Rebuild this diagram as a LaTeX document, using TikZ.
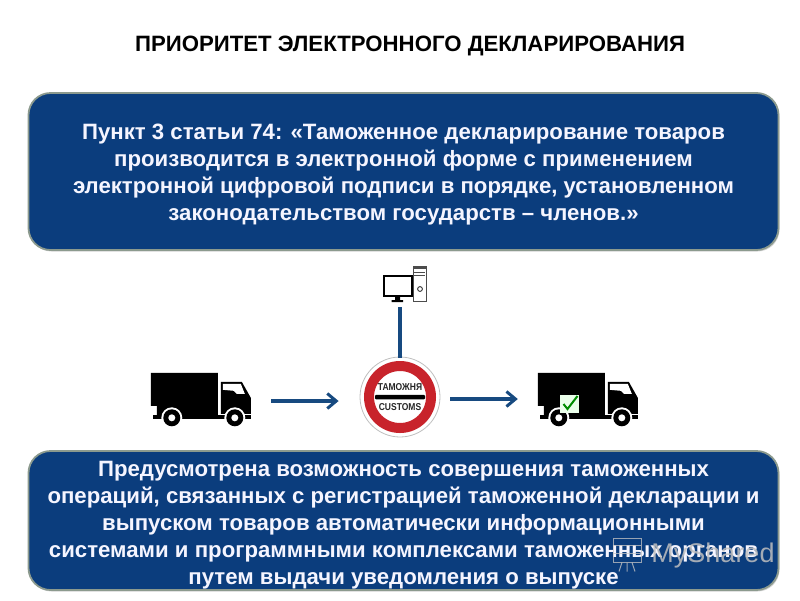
\documentclass[tikz,border=0pt]{standalone}
\usepackage{xcolor}
\usepackage{fontspec}
\setmainfont{Liberation Sans}
\newfontfamily\signfont[FakeStretch=.85]{Liberation Sans}
\usepackage{tikz}
\usetikzlibrary{positioning,shapes,shadows}
\usetikzlibrary{calc}
\usetikzlibrary{arrows.meta}
\definecolor{boxblue}{HTML}{0B3D7D}
\definecolor{boxrim}{HTML}{8C9A8E}
\definecolor{linkblue}{HTML}{174A80}
\definecolor{signred}{HTML}{C8232B}
\tikzset{
	infobox/.style={draw=boxrim,line width=1.8pt,fill=boxblue,rounded corners=22pt,minimum width=750pt,inner sep=0pt,
		drop shadow={shadow xshift=1pt,shadow yshift=-1.5pt,opacity=.35}},
	infotext/.style={text=white!96!blue,align=center,font=\fontsize{22.2}{27}\selectfont\bfseries,inner sep=0pt},
	link/.style={line width=3.2pt,linkblue},
	flow/.style={link,-{Straight Barb[length=9pt,width=15pt,line width=3pt]}},
	truckbox/.style={minimum width=100pt,minimum height=56pt,inner sep=0pt},
	signtext/.style={inner sep=0pt,font=\signfont\fontsize{10}{10}\selectfont\bfseries,text=black!85},
	markline/.style={gray!45,opacity=.75,line width=1pt},
	truck/.pic={
		\fill[black] (0,0) -- (67,0) -- (67,43) -- (6,43) -- (6,33) -- (0,33) -- cycle;
		\fill[black] (70,9) -- (91,9) -- (100,25) -- (100,41) -- (70,41) -- cycle;
		\fill[white] (72,11) -- (90,11) -- (94,21) -- (86,21) -- (83,18) -- (72,17) -- cycle;
		\fill[black] (2,42) rectangle (100,46);
		\foreach \w in {21,84}{
				\fill[white] (\w,45) circle (10.5);
				\fill[black] (\w,45) circle (8.5);
				\fill[white] (\w,45) circle (3.5);
			}
	}
}
\begin{document}
\begin{tikzpicture}[x=1pt,y=-1pt]
	\useasboundingbox (0,0) rectangle (800,600);
	\node[inner sep=0pt,font=\fontsize{22.2}{26}\selectfont\bfseries] (title) at (410,46) {ПРИОРИТЕТ ЭЛЕКТРОННОГО ДЕКЛАРИРОВАНИЯ};
	\node[infobox,minimum height=157pt] (lawbox) at (403.5,171.5) {};
	\node[infotext] (lawtext) at (403.5,175) {Пункт 3 статьи 74: «Таможенное декларирование товаров\\
		производится в электронной форме с применением\\
		электронной цифровой подписи в порядке, установленном\\
		законодательством государств – членов.»};
	\node[infobox,minimum height=139pt] (autobox) at (403.5,520.5) {};
	\node[infotext] (autotext) at (403.5,525) {Предусмотрена возможность совершения таможенных\\
		операций, связанных с регистрацией таможенной декларации и\\
		выпуском товаров автоматически информационными\\
		системами и программными комплексами таможенных органов\\
		путем выдачи уведомления о выпуске};
	% computer above the sign
	\node[draw,line width=2pt,minimum width=28pt,minimum height=20pt,inner sep=0pt] (screen) at (397.5,286) {};
	\fill[black] (395,296) rectangle (400,300) (391.5,300) rectangle (403,302);
	\node[draw=black!70,line width=1pt,fill=white,minimum width=13.5pt,minimum height=35pt,inner sep=0pt] (tower) at (420,284) {};
	\fill[black!70] (tower.north west) rectangle ++(13.5,3);
	\draw[black!70,line width=1pt] ($(tower.north west)+(1,6)$) -- ++(11.5,0) ($(tower.north west)+(1,9)$) -- ++(11.5,0);
	\draw[black!80,line width=.9pt] (tower.center)++(0,5) circle (2.4);
	\coordinate (pcfoot) at (400,307);
	% customs sign
	\node[circle,draw=black!25,line width=.8pt,fill=white,minimum size=80pt,inner sep=0pt] (gate) at (400,397) {};
	\draw[signred,line width=10pt] (gate.center) circle (31);
	\node[fill=black,minimum width=50pt,minimum height=4.5pt,inner sep=0pt,rounded corners=1pt] (gatebar) at (gate.center) {};
	\node[signtext,above=3.5pt of gatebar] (gateru) {ТАМОЖНЯ};
	\node[signtext,below=3.5pt of gatebar] (gateen) {CUSTOMS};
	% trucks
	\node[truckbox] (truckin) at (201,401) {};
	\pic at (truckin.north west) {truck};
	\node[truckbox] (truckout) at (588,401) {};
	\pic at (truckout.north west) {truck};
	\node[fill=white!92!green,minimum width=19pt,minimum height=18pt,inner sep=0pt] (tick) at (569.5,404) {};
	\draw[green!55!black,line width=2pt] ($(tick.center)+(-6,0)$) -- ($(tick.center)+(-2,5)$) -- ($(tick.center)+(8,-8)$);
	% links
	\draw[link,shorten >=-1pt] (pcfoot) -- (pcfoot |- gate.north);
	\coordinate (gateout) at (450,399);
	\draw[flow,shorten <=20pt,shorten >=21pt] (truckin.east) -- (truckin.east -| gate.west);
	\draw[flow,shorten >=20pt] (gateout) -- (gateout -| truckout.west);
	% watermark
	\node[inner sep=0pt,text=gray!50,opacity=.85,font=\fontsize{27}{27}\selectfont] (mark) at (713,556) {MyShared};
	\node[draw=gray!45,opacity=.75,line width=1pt,minimum width=28pt,minimum height=24pt,inner sep=0pt] (markicon) at (627,550) {};
	\draw[markline] (markicon.south)++(-5,0) -- ++(-3,9) (markicon.south) -- ++(0,9) (markicon.south)++(5,0) -- ++(3,9);
	\draw[markline] (markicon.west)++(0,-5) -- ++(28,0) (markicon.west)++(0,3) -- ++(28,0);
\end{tikzpicture}
\end{document}
